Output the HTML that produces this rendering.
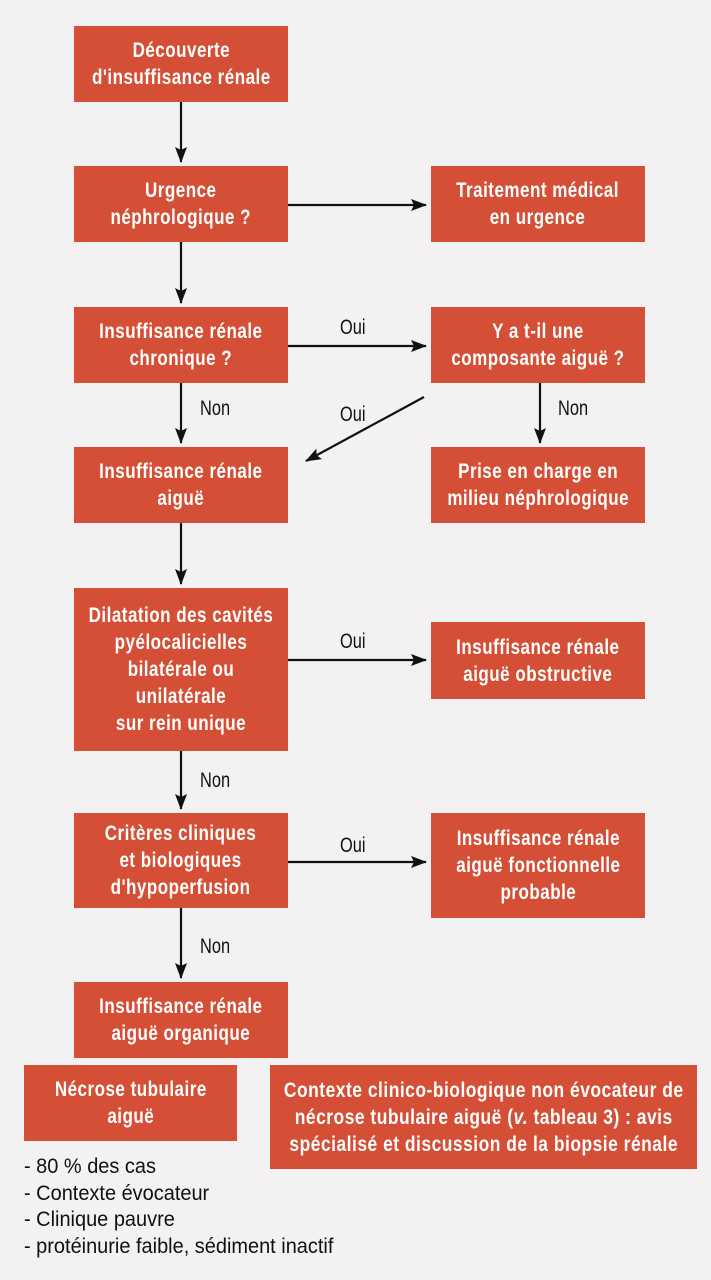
<!DOCTYPE html>
<html><head><meta charset="utf-8"><style>
html,body{margin:0;padding:0}
body{width:711px;height:1280px;background:#f3f1f1;position:relative;overflow:hidden;font-family:"Liberation Sans",sans-serif}
.b{position:absolute;background:#d44f35;color:#fff;font-weight:bold;font-size:21px;line-height:27px;letter-spacing:0.6px;text-align:center;display:flex;align-items:center;justify-content:center}
.t{transform:scaleX(0.81);white-space:nowrap;flex:none}
.l{position:absolute;font-size:21px;color:#111;line-height:22px;transform:scaleX(0.78);transform-origin:0 0}
.n{position:absolute;font-size:21px;color:#111;line-height:26.5px;transform:scaleX(0.95);transform-origin:0 0;white-space:nowrap}
svg{position:absolute;left:0;top:0}
</style></head><body>
<svg width="711" height="1280">
<defs><marker id="m" markerWidth="16" markerHeight="12" refX="15" refY="6" orient="auto" markerUnits="userSpaceOnUse"><path d="M0,0 L16,6 L0,12 L3,6Z" fill="#111"/></marker></defs>
<g stroke="#111" stroke-width="2.2" fill="none" marker-end="url(#m)">
<line x1="181" y1="102" x2="181" y2="162"/>
<line x1="181" y1="242" x2="181" y2="303"/>
<line x1="181" y1="383" x2="181" y2="443"/>
<line x1="181" y1="523" x2="181" y2="584"/>
<line x1="181" y1="751" x2="181" y2="809"/>
<line x1="181" y1="908" x2="181" y2="978"/>
<line x1="540" y1="383" x2="540" y2="443"/>
<line x1="288" y1="205" x2="426" y2="205"/>
<line x1="288" y1="346" x2="426" y2="346"/>
<line x1="288" y1="660" x2="426" y2="660"/>
<line x1="288" y1="862" x2="426" y2="862"/>
<line x1="424" y1="397" x2="306" y2="461"/>
</g></svg>
<div class="b" style="left:74px;top:26px;width:214px;height:76px"><div class="t">Découverte<br>d'insuffisance rénale</div></div>
<div class="b" style="left:74px;top:166px;width:214px;height:76px"><div class="t">Urgence<br>néphrologique ?</div></div>
<div class="b" style="left:431px;top:166px;width:214px;height:76px"><div class="t">Traitement médical<br>en urgence</div></div>
<div class="b" style="left:74px;top:307px;width:214px;height:76px"><div class="t">Insuffisance rénale<br>chronique ?</div></div>
<div class="b" style="left:431px;top:307px;width:214px;height:76px"><div class="t">Y a t-il une<br>composante aiguë ?</div></div>
<div class="b" style="left:74px;top:447px;width:214px;height:76px"><div class="t">Insuffisance rénale<br>aiguë</div></div>
<div class="b" style="left:431px;top:447px;width:214px;height:76px"><div class="t">Prise en charge en<br>milieu néphrologique</div></div>
<div class="b" style="left:74px;top:588px;width:214px;height:163px"><div class="t">Dilatation des cavités<br>pyélocalicielles<br>bilatérale ou<br>unilatérale<br>sur rein unique</div></div>
<div class="b" style="left:431px;top:622px;width:214px;height:77px"><div class="t">Insuffisance rénale<br>aiguë obstructive</div></div>
<div class="b" style="left:74px;top:813px;width:214px;height:95px"><div class="t">Critères cliniques<br>et biologiques<br>d'hypoperfusion</div></div>
<div class="b" style="left:431px;top:813px;width:214px;height:105px"><div class="t">Insuffisance rénale<br>aiguë fonctionnelle<br>probable</div></div>
<div class="b" style="left:74px;top:982px;width:214px;height:76px"><div class="t">Insuffisance rénale<br>aiguë organique</div></div>
<div class="b" style="left:24px;top:1065px;width:213px;height:76px"><div class="t">Nécrose tubulaire<br>aiguë</div></div>
<div class="b" style="left:270px;top:1065px;width:427px;height:104px"><div class="t" style="transform:scaleX(0.83)">Contexte clinico-biologique non évocateur de<br>nécrose tubulaire aiguë (<i>v.</i> tableau 3) : avis<br>spécialisé et discussion de la biopsie rénale</div></div>
<div class="l" style="left:340px;top:317px">Oui</div>
<div class="l" style="left:200px;top:398px">Non</div>
<div class="l" style="left:340px;top:404px">Oui</div>
<div class="l" style="left:558px;top:398px">Non</div>
<div class="l" style="left:340px;top:631px">Oui</div>
<div class="l" style="left:200px;top:770px">Non</div>
<div class="l" style="left:340px;top:835px">Oui</div>
<div class="l" style="left:200px;top:936px">Non</div>
<div class="n" style="left:24px;top:1154px">- 80 % des cas<br>- Contexte évocateur<br>- Clinique pauvre<br>- protéinurie faible, sédiment inactif</div>
</body></html>
